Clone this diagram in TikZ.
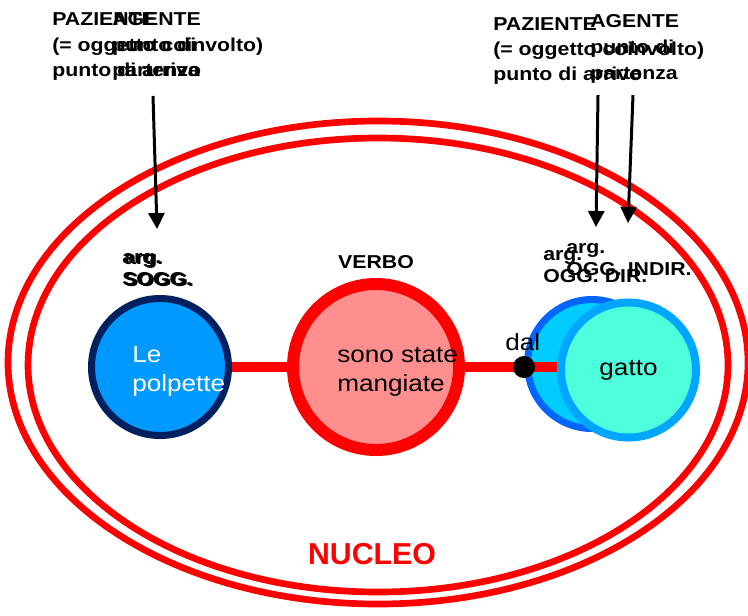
\documentclass[tikz,border=0pt]{standalone}
\usepackage{fontspec}
\setmainfont{Liberation Sans}
\newfontfamily\labfont[FakeStretch=1.14]{Liberation Sans}
\newfontfamily\txtfont[FakeStretch=1.12]{Liberation Sans}
\usetikzlibrary{arrows.meta}
\definecolor{nred}{RGB}{255,0,0}
\definecolor{sognavy}{RGB}{0,32,96}
\definecolor{sogfill}{RGB}{0,153,255}
\definecolor{verbfill}{RGB}{255,143,143}
\definecolor{oggdraw}{RGB}{0,102,255}
\definecolor{oggfill}{RGB}{0,204,255}
\definecolor{gatdraw}{RGB}{0,166,255}
\definecolor{gatfill}{RGB}{77,255,219}
\begin{document}
\begin{tikzpicture}[x=0.75pt,y=-0.75pt,
  ring/.style={draw=nred,line width=5pt},
  hdr/.style={font=\labfont\fontsize{14}{19}\selectfont\bfseries,align=left,anchor=base west,inner sep=0pt},
  arglab/.style={hdr,font=\labfont\fontsize{14}{17}\selectfont\bfseries},
  txt/.style={font=\txtfont\fontsize{17.5}{21.75}\selectfont,align=left,anchor=base west,inner sep=0pt},
  role/.style={-{Triangle[length=12pt,width=12pt]},line width=2.25pt},
  link/.style={draw=nred,line width=7.5pt},
  dot/.style={circle,fill=black,minimum size=16.5pt,inner sep=0pt}]
\useasboundingbox (0,0) rectangle (748,615);

% Nucleo rings
\draw[ring] (378,362.5) ellipse [x radius=370,y radius=241.5];
\draw[ring] (378,365) ellipse [x radius=350,y radius=227];
\node[font=\fontsize{22.7}{27}\selectfont\bfseries,text=nred] (nucleo) at (372,554) {NUCLEO};

% Roles, left (base = last line)
\node[hdr] (pazL) at (52,76.4) {PAZIENTE\\(= oggetto coinvolto)\\punto di arrivo};
\node[hdr] (ageL) at (112,76.4) {AGENTE\\punto di\\partenza};

% Roles, right
\node[hdr] (pazR) at (493,80.7) {PAZIENTE\\(= oggetto coinvolto)\\punto di arrivo};
\node[hdr,font=\labfont\fontsize{14}{19.6}\selectfont\bfseries] (ageR) at (590,79.8) {AGENTE\\punto di\\partenza};

% Arrows
\coordinate (lTop) at (153,96);
\coordinate (lTip) at (157,229);
\coordinate (r1Top) at (598,95);
\coordinate (r1Tip) at (596,227);
\coordinate (r2Top) at (633,95);
\coordinate (r2Tip) at (628,223);
\draw[role] (lTop) -- (lTip);
\draw[role] (r1Top) -- (r1Tip);
\draw[role] (r2Top) -- (r2Tip);

% Argument labels
\node[arglab] (sogA) at (122,285.7) {arg.\\SOGG.};
\node[arglab] (sogB) at (124,286.7) {arg.\\SOGG.};
\node[arglab,anchor=base] (verbLab) at (376,268.5) {VERBO};
\node[arglab] (dirA) at (543,282.7) {arg.\\OGG. DIR.};
\node[arglab] (indB) at (566,275.7) {arg.\\OGG. INDIR.};

% Circles
\node[circle,draw=sognavy,fill=sogfill,line width=5.25pt,minimum size=102.75pt] (polp) at (160,367) {};
\node[circle,draw=nred,fill=verbfill,line width=9pt,minimum size=124.5pt] (verbo) at (376,367) {};
\node[circle,draw=oggdraw,fill=oggfill,line width=5.25pt,minimum size=96.75pt] (oggB) at (592,364) {};
\node[circle,draw=gatdraw,fill=gatfill,line width=6pt,minimum size=101.25pt,
  font=\txtfont\fontsize{17.5}{21.75}\selectfont] (gatto) at (628.5,370) {gatto};

% Links
\draw[link] (polp) -- (verbo);
\draw[link] (verbo) -- (gatto.west |- verbo);
\node[dot] (dalDot) at (524,367) {};

% Words
\node[txt,text=white] (polpTxt) at (132,391) {Le\\polpette};
\node[txt] (verbTxt) at (337,391) {sono state\\mangiate};
\node[txt] (dalTxt) at (505,350) {dal};
\end{tikzpicture}
\end{document}
